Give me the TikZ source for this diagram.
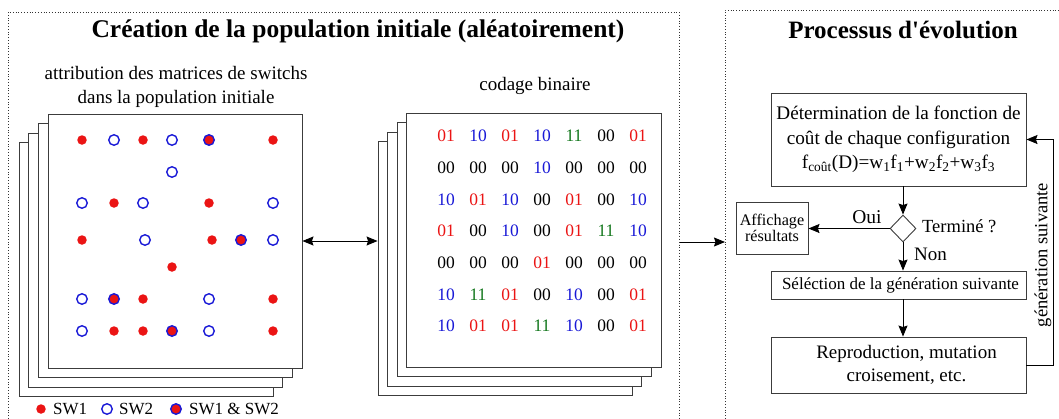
\documentclass[tikz,border=0pt]{standalone}
\usepackage{fontspec}
\setmainfont{Liberation Serif}[Ligatures=TeXOff]
\usetikzlibrary{arrows.meta,shapes.geometric}
\definecolor{myred}{RGB}{235,20,20}
\definecolor{myblue}{RGB}{25,25,215}
\definecolor{mygreen}{RGB}{20,120,30}
\definecolor{framegray}{RGB}{60,60,60}
\begin{document}
\begin{tikzpicture}[x=1pt,y=-1pt,
  frame/.style={draw=framegray,line width=0.9pt,fill=white,inner sep=0pt},
  sectionbox/.style={draw=black!80,dotted,line width=0.8pt},
  flowbox/.style={draw=framegray,line width=0.9pt,fill=white,inner sep=0pt,align=center,font=\fontsize{19.2}{24.5}\selectfont},
  arr/.style={line width=0.9pt,-{Stealth[length=11pt,width=9pt,inset=1.5pt]}},
  darr/.style={line width=0.9pt,{Stealth[length=11pt,width=9pt,inset=1.5pt]}-{Stealth[length=11pt,width=9pt,inset=1.5pt]}},
  num/.style={inner sep=0pt,font=\fontsize{17.5}{20}\selectfont},
  sw1/.style={circle,fill=myred,inner sep=0pt,minimum size=9.5pt},
  sw2/.style={circle,draw=myblue,line width=1.4pt,inner sep=0pt,minimum size=10.5pt},
  sw12/.style={circle,draw=myblue,fill=myred,line width=1.4pt,inner sep=0pt,minimum size=10.5pt},
  lbl/.style={inner sep=0pt,font=\fontsize{18.5}{22}\selectfont},
  leg/.style={inner sep=0pt,font=\fontsize{17}{20}\selectfont},
  title/.style={inner sep=0pt,font=\fontsize{25.5}{28}\selectfont\bfseries}]
\useasboundingbox (0,0) rectangle (1059,418);
\clip (0,0) rectangle (1059,418);
% section boxes
\draw[sectionbox] (8,430) -- (8,12) -- (679,12) -- (679,430);
\draw[sectionbox] (725,430) -- (725,10) -- (1070,10);
\node[title] (t1) at (358,31) {Création de la population initiale (aléatoirement)};
\node[title,font=\fontsize{25}{28}\selectfont\bfseries] (t2) at (903,30) {Processus d'évolution};
% left stack
\node[inner sep=0pt,align=center,font=\fontsize{19}{24}\selectfont] (sub1) at (176,87) {attribution des matrices de switchs\\dans la population initiale};
\node[frame,minimum width=254pt,minimum height=254pt] (L3) at (146.2,269.4) {};
\node[frame,minimum width=254pt,minimum height=254pt] (L2) at (155.8,260) {};
\node[frame,minimum width=254pt,minimum height=254pt] (L1) at (165.4,250.5) {};
\node[frame,minimum width=254pt,minimum height=254pt] (L0) at (175,241) {};
\foreach \s/\x/\y [count=\i] in {
  sw1/82/140, sw2/114/140, sw1/143/140, sw2/172/140, sw12/209/140, sw1/273/140,
  sw2/172/172,
  sw2/82/203, sw1/114/203, sw2/143/203, sw1/209/203, sw2/273/203,
  sw1/82/240, sw2/145/240, sw1/212/240, sw12/241/240, sw2/273/240,
  sw1/172/267,
  sw2/82/299, sw12/114/299, sw1/143/299, sw2/209/299, sw1/273/299,
  sw2/82/331, sw1/114/331, sw1/143/331, sw12/172/331, sw2/209/331, sw1/273/331}
  {\node[\s] (p\i) at (\x,\y) {};}
% legend
\node[sw1] (g1) at (41,409) {};
\node[leg,anchor=west] (g1t) at (53,409) {SW1};
\node[sw2] (g2) at (107,409) {};
\node[leg,anchor=west] (g2t) at (119,409) {SW2};
\node[sw12] (g3) at (176,409) {};
\node[leg,anchor=west] (g3t) at (189,409) {SW1 \& SW2};
% right stack
\node[inner sep=0pt,font=\fontsize{19}{22}\selectfont] (sub2) at (535,86) {codage binaire};
\node[frame,minimum width=254pt,minimum height=254pt] (R3) at (505,268.5) {};
\node[frame,minimum width=254pt,minimum height=254pt] (R2) at (514.5,259) {};
\node[frame,minimum width=254pt,minimum height=254pt] (R1) at (524,249.5) {};
\node[frame,minimum width=255pt,minimum height=254pt] (R0) at (533.5,240) {};
\foreach \rowlist [count=\r from 0] in {
  {myred/01,myblue/10,myred/01,myblue/10,mygreen/11,black/00,myred/01},
  {black/00,black/00,black/00,myblue/10,black/00,black/00,black/00},
  {myblue/10,myred/01,myblue/10,black/00,myred/01,black/00,myblue/10},
  {myred/01,black/00,myblue/10,black/00,myred/01,mygreen/11,myblue/10},
  {black/00,black/00,black/00,myred/01,black/00,black/00,black/00},
  {myblue/10,mygreen/11,myred/01,black/00,myblue/10,black/00,myred/01},
  {myblue/10,myred/01,myred/01,mygreen/11,myblue/10,black/00,myred/01}}
  {\foreach \c/\t [count=\k from 0] in \rowlist
    {\node[num,text=\c] (n\r\k) at ({446+32*\k},{136+31.7*\r}) {\t};}}
\draw[darr] (L0.east) -- (L0.east -| R3.west);
\coordinate (c1) at (680,242);
\coordinate (c2) at (725,242);
\draw[arr] (c1) -- (c2);
% flowchart
\node[flowbox,minimum width=255pt,minimum height=93pt] (B1) at (898.5,139.5)
  {Détermination de la fonction de\\coût de chaque configuration\\f\textsubscript{coût}(D)=w\textsubscript{1}f\textsubscript{1}+w\textsubscript{2}f\textsubscript{2}+w\textsubscript{3}f\textsubscript{3}};
\node[diamond,draw=framegray,line width=0.9pt,inner sep=0pt,minimum width=26pt,minimum height=27pt] (D) at (903,228.5) {};
\node[flowbox,minimum width=72pt,minimum height=52pt,font=\fontsize{16.2}{16.5}\selectfont] (A) at (772,228) {Affichage\\résultats};
\node[flowbox,minimum width=255pt,minimum height=28pt,font=\fontsize{17}{20}\selectfont] (S) at (898.5,285) {\hspace*{4pt}Séléction de la génération suivante};
\node[flowbox,minimum width=255pt,minimum height=56pt,font=\fontsize{19}{23}\selectfont] (R) at (898.5,365) {\hspace*{16pt}Reproduction, mutation\\\hspace*{16pt}croisement, etc.};
\draw[arr] (B1.south -| D.north) -- (D.north);
\draw[arr] (D.west) -- (D.west -| A.east);
\draw[arr] (D.south) -- (D.south |- S.north);
\draw[arr] (S.south -| D.south) -- (R.north -| D.south);
\draw[arr] (R.east) -- ++(27,0) |- (B1.east);
\node[lbl,font=\fontsize{19.5}{22}\selectfont] (oui) at (867,217) {Oui};
\node[lbl,anchor=west] (term) at (922,226) {Terminé ?};
\node[lbl,anchor=west,font=\fontsize{19}{22}\selectfont] (non) at (914,254) {Non};
\node[lbl,rotate=90] (gs) at (1043,255) {génération suivante};
\end{tikzpicture}
\end{document}
